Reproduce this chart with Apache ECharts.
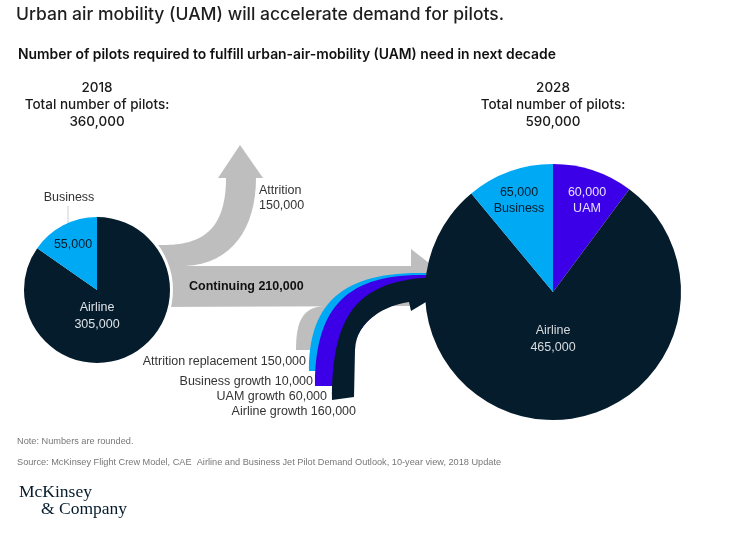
<!DOCTYPE html>
<html>
<head>
<meta charset="utf-8">
<script src="https://cdn.jsdelivr.net/npm/echarts@6/dist/echarts.min.js"></script>
<style>
  html, body { margin: 0; padding: 0; background: #fff; }
  #main { width: 748px; height: 538px; }
</style>
</head>
<body>
<div id="main"></div>
<script>
// values
const years = ['2018', '2028'];
const totals = [360000, 590000];
const segments2018 = ['Airline', 'Business'];
const pilots2018 = [305000, 55000];
const segments2028 = ['UAM', 'Airline', 'Business'];
const pilots2028 = [60000, 465000, 65000];
const outflowNames = ['Attrition', 'Continuing'];
const outflowValues = [150000, 210000];
const inflowNames = ['Attrition replacement', 'Business growth', 'UAM growth', 'Airline growth'];
const inflowValues = [150000, 10000, 60000, 160000];

const NAVY = '#051c2c', SKY = '#00a9f4', VIOLET = '#3c00e8', GREY = '#bebebe';
const segColor = { Airline: NAVY, Business: SKY, UAM: VIOLET };
const FONT = '"Liberation Sans", Arial, sans-serif';
const HEAD = 'Inter, "Liberation Sans", Arial, sans-serif';
const fmt = v => v.toLocaleString('en-US');

// layout
const leftPie = { c: [97, 290], r: 73 };
const rightPie = { c: [553, 292], r: 128 };
const leftLabelOffsets = [[0, 26], [-24, -45]];
const rightLabelOffsets = [[34, -91], [0, 47], [-34, -91]];
const leftLabelColors = ['#dde2e6', NAVY];
const rightLabelColors = ['#e6e0ff', '#d6dbdf', NAVY];

// flow shapes, one per flow (attrition, continuing, then the four inflows)
const innerEdge = ' L425,292 L408,300 C387,303 358,320 353,350';
const flowPaths = [
  'M150,245 L163,245 C200,245 226,232 226,178 L218,178 L240,145 L263,178 L256,178 C256,228 232,264 185,266 L150,266 Z',
  'M150,266 L411,266 L411,249 L456,284 L411,306 L150,307 Z',
  'M296,350 C296,322 302,307 325,306 L362,306 L355,350 Z',
  'M309,371 C309,302 343,266 445,274 L445,288' + innerEdge + ' L353,371 Z',
  'M315,386 C315,306 347,268 445,276 L445,288' + innerEdge + ' L353,386 Z',
  'M332,400 C332,310 360,277 445,277 L456,284 L411,311 L409,302 C387,305 356,320 355,350 L354,397 Z'
];
const flowColors = [GREY, GREY, GREY, SKY, VIOLET, NAVY];

const chartDom = document.getElementById('main');
const myChart = echarts.init(chartDom);

function txt(text, x, y, opt) {
  opt = opt || {};
  const align = opt.align || 'left';
  return {
    type: 'text', z: 20,
    style: {
      text: text, x: x, y: y,
      fill: opt.color || '#222',
      font: (opt.weight || 'normal') + ' ' + (opt.size || 12.5) + 'px ' + (opt.family || FONT),
      align: align, textAlign: align,
      verticalAlign: 'middle', textVerticalAlign: 'middle',
      lineHeight: opt.lineHeight || 16
    }
  };
}

const serif = '"Liberation Serif", "DejaVu Serif", serif';
const graphics = [
  txt('Urban air mobility (UAM) will accelerate demand for pilots.', 16, 15, { size: 17.5, weight: 500, family: HEAD, color: '#1e1e1e' }),
  txt('Number of pilots required to fulfill urban-air-mobility (UAM) need in next decade', 18, 55, { size: 13.9, weight: 600, family: HEAD, color: '#111' }),
  txt(years[0] + '\nTotal number of pilots:\n' + fmt(totals[0]), leftPie.c[0], 105, { size: 13.5, weight: 500, family: HEAD, align: 'center', lineHeight: 17, color: '#1a1a1a' }),
  txt(years[1] + '\nTotal number of pilots:\n' + fmt(totals[1]), rightPie.c[0], 105, { size: 13.5, weight: 500, family: HEAD, align: 'center', lineHeight: 17, color: '#1a1a1a' }),

  txt(segments2018[1], 69, 198, { align: 'center', color: '#333' }),
  { type: 'line', z: 20, shape: { x1: 68, y1: 206, x2: 68, y2: 224 }, style: { stroke: '#cfcfcf', lineWidth: 1 } },

  txt(outflowNames[0] + '\n' + fmt(outflowValues[0]), 259, 198, { color: '#333', lineHeight: 15 }),
  txt(outflowNames[1] + ' ' + fmt(outflowValues[1]), 189, 287, { weight: 'bold', size: 12.5, color: '#111' }),

  txt(inflowNames[0] + ' ' + fmt(inflowValues[0]), 306, 362, { align: 'right', color: '#333' }),
  txt(inflowNames[1] + ' ' + fmt(inflowValues[1]), 313, 382, { align: 'right', color: '#333' }),
  txt(inflowNames[2] + ' ' + fmt(inflowValues[2]), 327, 397, { align: 'right', color: '#333' }),
  txt(inflowNames[3] + ' ' + fmt(inflowValues[3]), 356, 412, { align: 'right', color: '#333' }),

  txt('Note: Numbers are rounded.', 17, 441, { size: 9.2, color: '#777' }),
  txt('Source: McKinsey Flight Crew Model, CAE  Airline and Business Jet Pilot Demand Outlook, 10-year view, 2018 Update', 17, 462, { size: 9.2, color: '#777' }),
  txt('McKinsey', 19, 492, { size: 17.5, family: serif, color: NAVY }),
  txt('& Company', 41, 509, { size: 17.5, family: serif, color: NAVY })
];

function pieSeries(names, values, pie, offsets, colors, nameFirst) {
  return {
    type: 'pie',
    z: 50,
    silent: true,
    center: pie.c,
    radius: [0, pie.r],
    startAngle: 90,
    clockwise: true,
    avoidLabelOverlap: false,
    label: { show: true, position: 'inside', fontFamily: FONT, fontSize: 12.5, lineHeight: 16 },
    labelLine: { show: false },
    labelLayout: function (params) {
      const o = offsets[params.dataIndex];
      return { x: pie.c[0] + o[0], y: pie.c[1] + o[1], align: 'center', verticalAlign: 'middle' };
    },
    data: names.map(function (n, i) {
      let f;
      if (nameFirst[i] === 1) f = n + '\n' + fmt(values[i]);
      else if (nameFirst[i] === 0) f = fmt(values[i]) + '\n' + n;
      else f = fmt(values[i]);
      return {
        name: n, value: values[i],
        itemStyle: { color: segColor[n] },
        label: { color: colors[i], formatter: f, lineHeight: n === 'Airline' ? 17 : 16 }
      };
    })
  };
}

const flowData = outflowValues.concat(inflowValues);

const option = {
  animation: false,
  backgroundColor: '#fff',
  graphic: { elements: graphics },
  series: [
    {
      type: 'custom',
      coordinateSystem: 'none',
      silent: true,
      z: 1,
      data: flowData,
      renderItem: function (params, api) {
        const i = params.dataIndex;
        const children = [{ type: 'path', z2: i, shape: { pathData: flowPaths[i] }, style: { fill: flowColors[i] } }];
        if (i === flowData.length - 1) {
          // white gap round the 2018 pie
          children.push({ type: 'circle', z2: 20, shape: { cx: leftPie.c[0], cy: leftPie.c[1], r: leftPie.r + 3 }, style: { fill: '#fff' } });
        }
        return { type: 'group', children: children };
      }
    },
    pieSeries(segments2018, pilots2018, leftPie, leftLabelOffsets, leftLabelColors, [1, 2]),
    pieSeries(segments2028, pilots2028, rightPie, rightLabelOffsets, rightLabelColors, [0, 1, 0])
  ]
};

option && myChart.setOption(option);
</script>
</body>
</html>
